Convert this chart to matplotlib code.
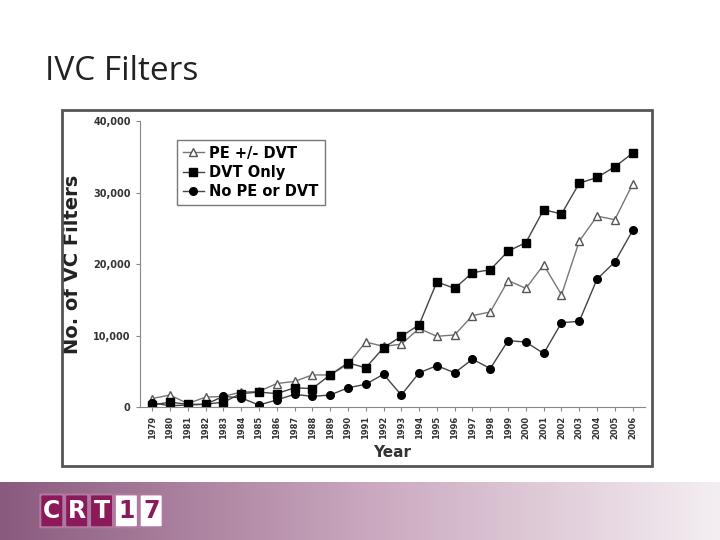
import matplotlib

matplotlib.use("Agg")
import matplotlib.pyplot as plt
import numpy as np
from matplotlib.patches import Rectangle, FancyBboxPatch
from matplotlib.ticker import FuncFormatter

years = list(range(1979, 2007))
pe_dvt = [1200, 1700, 500, 1400, 1500, 2100, 2200, 3300, 3600, 4500, 4500, 6000, 9100, 8500,
          8800, 11000, 9900, 10100, 12800, 13300, 17700, 16600, 19900, 15700, 23200, 26700,
          26200, 31200]
dvt_only = [300, 700, 400, 400, 700, 1900, 2100, 1900, 2700, 2600, 4500, 6200, 5500, 8300,
            9900, 11500, 17500, 16600, 18800, 19200, 21800, 23000, 27600, 27000, 31300, 32100,
            33600, 35500]
no_pe = [600, 200, 300, 400, 1500, 1300, 300, 1000, 1800, 1500, 1700, 2700, 3200, 4600, 1700,
         4800, 5800, 4800, 6700, 5400, 9300, 9100, 7500, 11800, 12000, 17900, 20300, 24700]
logo = ["C", "R", "T", "1", "7"]

fig = plt.figure(figsize=(7.2, 5.4), dpi=100)

# footer gradient band
bg = fig.add_axes([0, 0, 1, 0.108])
grad = np.linspace(0, 1, 256)[None, :]
cmap = matplotlib.colors.LinearSegmentedColormap.from_list("f", ["#8a5a7e", "#c9a6bd", "#f4eef2"])
bg.imshow(grad, aspect="auto", cmap=cmap, extent=[0, 1, 0, 1])
for i, ch in enumerate(logo):
    fc = "#8b1a5a" if i < 3 else "white"
    tc = "white" if i < 3 else "#8b1a5a"
    x0 = 0.058 + i * 0.0345
    bg.add_patch(FancyBboxPatch((x0, 0.22), 0.028, 0.56, boxstyle="round,pad=0.002,rounding_size=0.005",
                                fc=fc, ec="#b07aa0", lw=1.5))
    bg.text(x0 + 0.014, 0.5, ch, ha="center", va="center", color=tc, fontsize=17,
            fontweight="bold", family="DejaVu Sans Condensed")
bg.set_xlim(0, 1)
bg.set_ylim(0, 1)
bg.axis("off")

fig.text(0.062, 0.852, "IVC Filters", fontsize=24, family="Open Sans", color="#222222")

# chart frame
fig.patches.append(Rectangle((62 / 720, 1 - 466 / 540), 590 / 720, 356 / 540,
                             transform=fig.transFigure, fill=False, ec="#555555", lw=2))

ax = fig.add_axes([0.194, 0.246, 0.702, 0.53])
ax.plot(years, pe_dvt, color="#777777", lw=1, marker="^", ms=6, mfc="white", mec="#555555",
        label="PE +/- DVT")
ax.plot(years, dvt_only, color="#444444", lw=1, marker="s", ms=5.5, mfc="black", mec="black",
        label="DVT Only")
ax.plot(years, no_pe, color="#444444", lw=1, marker="o", ms=5.5, mfc="black", mec="black",
        label="No PE or DVT")
ax.set_xlim(1978.3, 2006.7)
ax.set_ylim(0, 40000)
ax.set_yticks([0, 10000, 20000, 30000, 40000])
ax.yaxis.set_major_formatter(FuncFormatter(lambda v, p: f"{int(v):,}"))
ax.set_xticks(years)
ax.set_xticklabels([str(y) for y in years], rotation=90, fontsize=6, fontweight="bold",
                   color="#333333")
for lbl in ax.get_yticklabels():
    lbl.set_fontsize(7)
    lbl.set_fontweight("bold")
    lbl.set_color("#333333")
for s in ["top", "right"]:
    ax.spines[s].set_visible(False)
ax.spines["left"].set_color("#888888")
ax.spines["bottom"].set_color("#888888")
ax.tick_params(colors="#888888", length=3, labelcolor="#333333")
ax.set_ylabel("No. of VC Filters", fontsize=14, fontweight="bold", color="#222222", labelpad=8)
ax.set_xlabel("Year", fontsize=11, fontweight="bold", color="#333333")
ax.legend(loc="upper left", bbox_to_anchor=(0.06, 0.96), frameon=True,
          fancybox=False, edgecolor="#555555", handlelength=1.4, borderpad=0.4,
          labelspacing=0.3, handletextpad=0.4, prop={"weight": "bold", "size": 10.5})

fig.savefig("out.png", dpi=100)
